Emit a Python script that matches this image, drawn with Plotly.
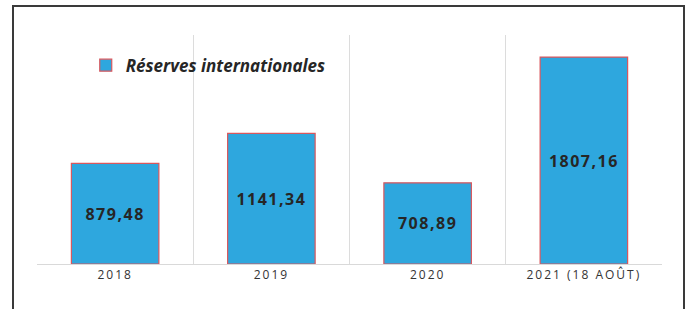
import plotly.graph_objects as go

categories = ["2018", "2019", "2020", "2021 (18 AOÛT)"]
values = [879.48, 1141.34, 708.89, 1807.16]
labels = ["879,48", "1141,34", "708,89", "1807,16"]
series_name = "Réserves internationales"

fig = go.Figure()
fig.add_trace(go.Bar(
    x=categories, y=values, name=series_name,
    text=labels, textposition="inside", insidetextanchor="middle",
    textangle=0,
    textfont=dict(family="Open Sans", size=16, color="#262626", weight="bold"),
    marker=dict(color="#2ea7de", line=dict(color="#d9575d", width=1.2)),
    width=0.56, showlegend=True,
))

W, H = 689, 309
l, r, t, b = 37, 27, 35, 45
pw, ph = W - l - r, H - t - b

def px_x(x):
    return (x - l) / pw

def px_y(y):
    return (H - b - y) / ph

fig.add_shape(type="rect", xref="paper", yref="paper",
              x0=px_x(13), x1=px_x(684), y0=px_y(312), y1=px_y(6),
              line=dict(color="#3a3a3a", width=2), fillcolor="rgba(0,0,0,0)", layer="below")

fig.update_layout(
    width=W, height=H,
    margin=dict(l=l, r=r, t=t, b=b),
    paper_bgcolor="white", plot_bgcolor="white",
    font=dict(family="Open Sans", color="#333"),
    showlegend=True,
    legend=dict(x=0.078, y=0.945, xanchor="left", yanchor="top",
                bgcolor="rgba(0,0,0,0)",
                font=dict(family="Open Sans", size=17, color="#262626", weight="bold", style="italic"),
                itemwidth=30),
    xaxis=dict(type="category", tickson="boundaries", showgrid=True,
               gridcolor="#dcdcdc", gridwidth=1, ticks="", showline=True,
               linecolor="#d9d9d9", linewidth=1,
               tickfont=dict(family="Open Sans", size=12, color="#333"),
               range=[-0.5, 3.5]),
    yaxis=dict(range=[0, 2000], showgrid=False, showticklabels=False,
               zeroline=False, showline=False, ticks=""),
    bargap=0.44,
)

post = (
    "document.body.style.margin='0';"
    "var gd=document.getElementById('{plot_id}');"
    "gd.querySelectorAll('.xtick text').forEach(function(e){e.style.letterSpacing='2px';});"
    "gd.querySelectorAll('.bartext').forEach(function(e){e.style.letterSpacing='1.5px';});"
)

fig.write_html("out.html", post_script=post, config={"displayModeBar": False})
